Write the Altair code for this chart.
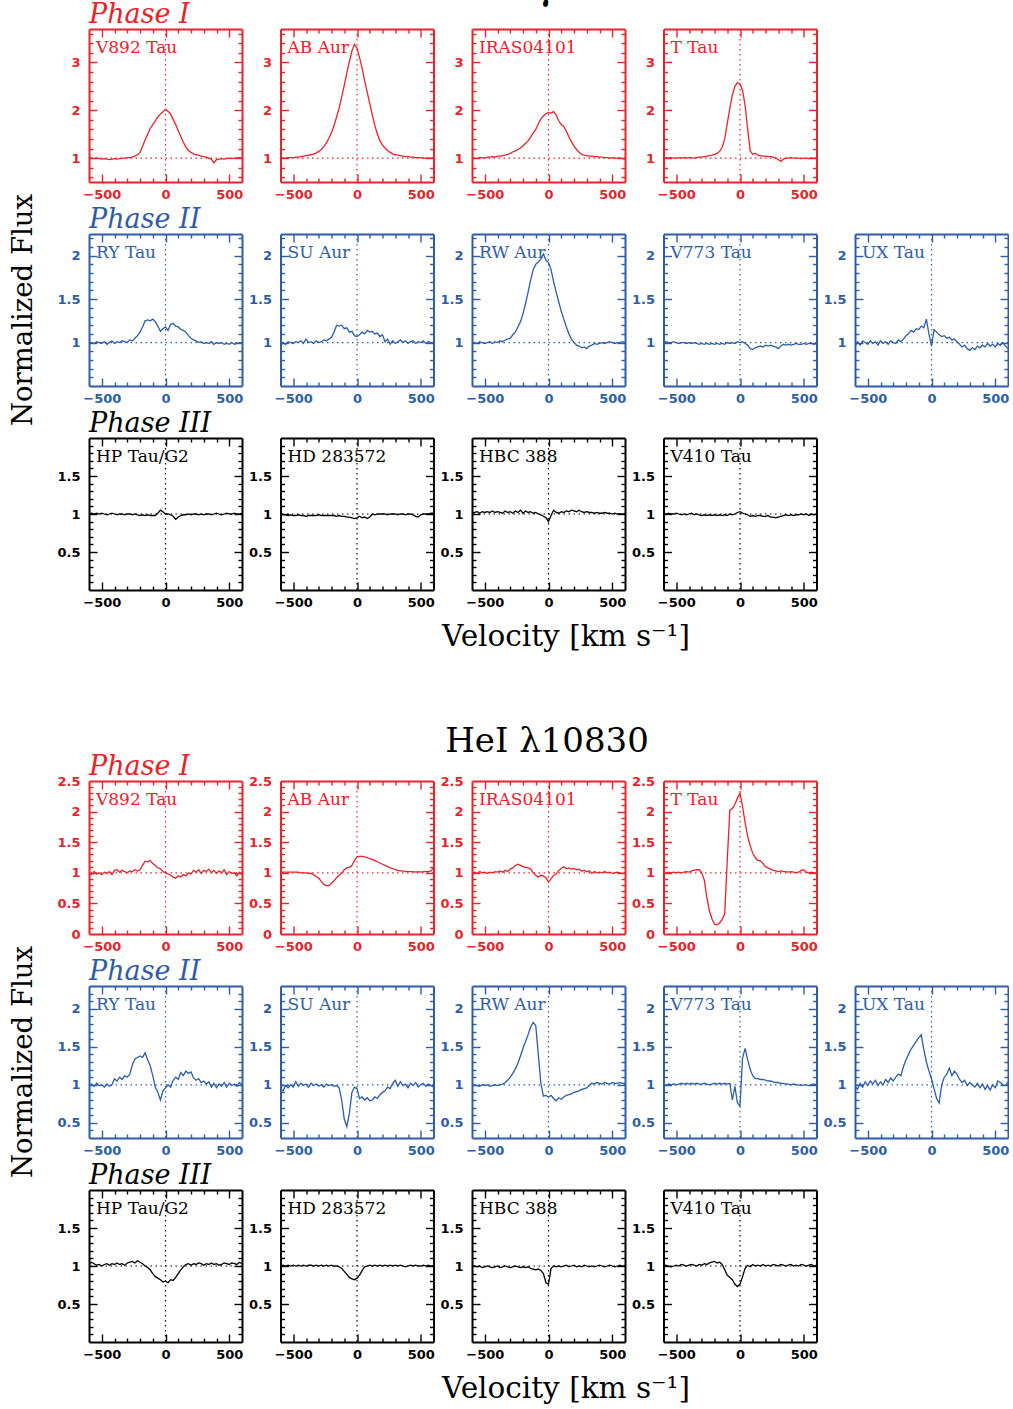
import altair as alt
import pandas as pd

# Normalized line profiles, resampled onto a common 20 km/s velocity grid
VELOCITY = list(range(-600, 601, 20))

# ---------------- Pa gamma ----------------
PAG_V892_TAU = [1.00, 1.00, 0.99, 1.00, 0.99, 0.98, 0.99, 0.98, 0.97, 0.98,
                0.99, 0.98, 0.99, 1.00, 1.00, 1.01, 1.01, 1.02, 1.04, 1.07,
                1.12, 1.25, 1.38, 1.50, 1.62, 1.70, 1.78, 1.86, 1.92, 1.97,
                2.02, 1.98, 1.92, 1.81, 1.70, 1.57, 1.45, 1.33, 1.23, 1.16,
                1.12, 1.09, 1.07, 1.06, 1.04, 1.03, 1.02, 1.00, 0.98, 0.90,
                0.97, 0.98, 0.99, 0.98, 0.99, 1.00, 0.99, 1.00, 1.00, 1.01,
                1.00]
PAG_AB_AUR = [1.00, 1.00, 1.00, 1.01, 1.01, 1.01, 1.02, 1.02, 1.03, 1.04,
              1.05, 1.06, 1.07, 1.09, 1.11, 1.14, 1.18, 1.24, 1.32, 1.42,
              1.53, 1.68, 1.86, 2.05, 2.28, 2.52, 2.78, 3.02, 3.24, 3.38,
              3.30, 3.10, 2.88, 2.62, 2.38, 2.14, 1.90, 1.68, 1.50, 1.36,
              1.27, 1.21, 1.16, 1.12, 1.09, 1.07, 1.06, 1.05, 1.04, 1.03,
              1.03, 1.02, 1.02, 1.01, 1.01, 1.01, 1.00, 1.00, 1.00, 1.00,
              1.00]
PAG_IRAS04101 = [1.00, 1.00, 0.99, 1.01, 1.01, 1.00, 1.02, 1.02, 1.03, 1.02,
                 1.04, 1.04, 1.05, 1.06, 1.08, 1.10, 1.13, 1.15, 1.18, 1.21,
                 1.26, 1.31, 1.36, 1.44, 1.53, 1.60, 1.72, 1.82, 1.88, 1.93,
                 1.95, 1.94, 1.97, 1.90, 1.78, 1.70, 1.66, 1.56, 1.44, 1.34,
                 1.25, 1.18, 1.12, 1.08, 1.06, 1.05, 1.04, 1.04, 1.03, 1.03,
                 1.02, 1.02, 1.01, 1.01, 1.00, 1.01, 1.00, 1.00, 1.00, 0.99,
                 0.98]
PAG_T_TAU = [1.00, 1.01, 1.00, 1.01, 1.00, 1.00, 1.01, 1.00, 1.01, 1.00,
             1.01, 1.01, 1.00, 1.01, 1.02, 1.02, 1.03, 1.04, 1.05, 1.06,
             1.08, 1.10, 1.14, 1.22, 1.40, 1.72, 2.04, 2.32, 2.50, 2.58,
             2.55, 2.42, 2.10, 1.60, 1.15, 1.08, 1.10, 1.06, 1.05, 1.04,
             1.04, 1.03, 1.03, 1.02, 1.00, 0.97, 0.93, 0.98, 1.00, 1.00,
             1.01, 1.00, 1.00, 1.00, 0.99, 1.00, 1.00, 0.99, 1.00, 1.00,
             1.00]
PAG_RY_TAU = [0.98, 1.00, 0.99, 1.01, 1.00, 0.99, 1.01, 0.98, 1.00, 1.02,
              0.99, 1.01, 1.00, 1.02, 1.01, 1.00, 1.03, 1.02, 1.05, 1.08,
              1.12, 1.18, 1.25, 1.26, 1.25, 1.27, 1.24, 1.19, 1.13, 1.16,
              1.18, 1.14, 1.21, 1.22, 1.19, 1.18, 1.15, 1.14, 1.12, 1.08,
              1.05, 1.03, 1.02, 1.00, 1.01, 0.99, 1.00, 0.99, 1.01, 0.98,
              1.00, 0.99, 1.00, 0.98, 0.99, 0.98, 1.00, 0.98, 0.99, 1.00,
              0.99]
PAG_SU_AUR = [0.96, 1.00, 0.98, 1.01, 1.00, 0.99, 1.01, 1.00, 1.02, 0.99,
              1.04, 1.00, 1.01, 0.99, 1.02, 1.00, 1.01, 1.03, 1.02, 1.04,
              1.06, 1.12, 1.20, 1.19, 1.20, 1.16, 1.17, 1.12, 1.13, 1.08,
              1.07, 1.09, 1.12, 1.10, 1.14, 1.12, 1.13, 1.10, 1.11, 1.07,
              1.09, 1.01, 1.04, 0.98, 1.02, 0.99, 1.01, 1.03, 1.00, 1.02,
              0.99, 1.01, 1.02, 0.99, 1.01, 1.00, 1.02, 0.99, 1.01, 1.00,
              0.99]
PAG_RW_AUR = [0.99, 1.00, 0.99, 1.01, 1.00, 0.99, 1.00, 1.01, 0.99, 1.01,
              1.00, 1.02, 1.01, 1.03, 1.04, 1.05, 1.09, 1.12, 1.18, 1.24,
              1.33, 1.45, 1.58, 1.72, 1.84, 1.90, 1.93, 1.96, 2.02, 1.95,
              1.92, 1.84, 1.70, 1.58, 1.47, 1.36, 1.27, 1.18, 1.10, 1.04,
              1.00, 0.97, 0.96, 0.94, 0.95, 0.93, 0.96, 0.97, 0.99, 0.98,
              0.99, 1.00, 0.99, 1.00, 1.01, 1.00, 0.99, 1.00, 1.00, 1.01,
              1.00]
PAG_V773_TAU = [1.00, 1.01, 1.00, 1.00, 1.01, 1.00, 0.99, 1.00, 1.00, 0.99,
                1.00, 0.99, 1.00, 0.99, 0.98, 0.99, 0.98, 0.99, 0.98, 0.99,
                0.98, 0.99, 0.98, 0.99, 0.98, 1.00, 0.99, 1.00, 0.99, 1.01,
                1.00, 1.01, 0.99, 0.97, 0.93, 0.92, 0.94, 0.95, 0.96, 0.95,
                0.97, 0.96, 0.97, 0.96, 0.95, 0.93, 0.96, 0.98, 0.97, 0.98,
                0.97, 0.98, 0.99, 0.98, 0.98, 0.99, 0.98, 0.99, 0.99, 0.98,
                0.99]
PAG_UX_TAU = [0.96, 1.01, 0.97, 1.02, 1.00, 0.98, 1.02, 0.99, 1.01, 0.97,
              1.02, 0.99, 1.01, 0.98, 1.02, 1.00, 0.99, 1.03, 1.01, 1.04,
              1.08, 1.10, 1.14, 1.12, 1.16, 1.15, 1.19, 1.17, 1.27, 1.10,
              0.96, 1.15, 1.12, 1.09, 1.07, 1.08, 1.05, 1.06, 1.03, 1.04,
              1.01, 0.98, 0.95, 0.97, 0.93, 0.91, 0.94, 0.92, 0.96, 0.94,
              0.97, 0.95, 0.99, 0.96, 0.98, 0.95, 0.99, 0.97, 1.00, 0.96,
              0.93]
PAG_HP_TAU_G2 = [1.00, 1.01, 1.00, 1.01, 1.00, 1.01, 1.00, 0.99, 1.00, 1.01,
                 1.00, 0.99, 1.00, 1.00, 0.99, 1.00, 1.00, 0.99, 1.00, 0.99,
                 0.98, 0.99, 0.98, 0.99, 0.98, 0.98, 0.98, 1.01, 1.05, 1.03,
                 1.00, 1.00, 0.99, 0.97, 0.93, 0.96, 0.98, 0.99, 0.99, 1.00,
                 0.99, 1.00, 1.00, 0.99, 1.00, 0.99, 1.00, 1.00, 0.99, 1.00,
                 1.01, 1.00, 0.99, 1.00, 1.01, 1.00, 1.00, 1.01, 1.00, 1.00,
                 1.01]
PAG_HD_283572 = [1.00, 0.99, 0.99, 0.98, 0.99, 0.98, 0.98, 0.99, 0.98, 0.98,
                 0.97, 0.98, 0.98, 0.98, 0.98, 0.99, 0.98, 0.98, 0.98, 0.98,
                 0.98, 0.98, 0.97, 0.98, 0.97, 0.97, 0.96, 0.96, 0.95, 0.94,
                 0.95, 0.97, 0.95, 0.96, 0.94, 0.96, 1.00, 0.99, 1.00, 1.00,
                 1.00, 1.00, 0.99, 1.00, 1.00, 1.00, 0.99, 1.00, 1.00, 0.99,
                 1.00, 1.00, 0.99, 0.97, 0.96, 0.99, 1.00, 1.00, 1.00, 1.01,
                 1.01]
PAG_HBC_388 = [1.01, 1.02, 1.03, 1.01, 1.03, 1.02, 1.03, 1.02, 1.04, 1.02,
               1.03, 1.02, 1.01, 1.04, 1.02, 1.03, 1.01, 1.04, 1.02, 1.05,
               1.01, 1.04, 1.02, 1.03, 1.01, 1.02, 1.00, 0.99, 0.97, 0.95,
               0.90, 0.98, 1.05, 1.02, 1.01, 1.03, 1.02, 1.04, 1.03, 1.05,
               1.04, 1.03, 1.05, 1.03, 1.02, 1.03, 1.02, 1.02, 1.01, 1.02,
               1.01, 1.01, 1.02, 1.01, 1.01, 1.00, 1.01, 1.00, 1.00, 1.00,
               1.00]
PAG_V410_TAU = [1.01, 1.00, 1.01, 1.00, 1.00, 1.01, 1.00, 0.99, 1.00, 0.99,
                1.00, 1.01, 0.99, 1.00, 0.99, 0.98, 0.99, 0.98, 0.99, 0.98,
                0.99, 0.98, 0.99, 0.98, 0.99, 0.98, 1.00, 0.99, 1.00, 1.02,
                1.03, 1.01, 1.00, 0.99, 0.97, 0.98, 0.97, 0.98, 0.98, 0.97,
                0.97, 0.98, 0.96, 0.96, 0.95, 0.96, 0.97, 0.98, 0.99, 0.98,
                0.99, 0.98, 0.99, 0.99, 1.00, 0.99, 1.00, 0.98, 1.00, 0.99,
                1.00]

# ---------------- He I 10830 ----------------
HEI_V892_TAU = [1.01, 0.97, 1.02, 0.98, 1.00, 0.97, 1.01, 0.99, 1.02, 0.97,
                1.04, 1.05, 1.01, 1.04, 1.02, 1.00, 1.03, 1.02, 1.05, 1.03,
                1.05, 1.12, 1.19, 1.18, 1.20, 1.15, 1.12, 1.08, 1.07, 1.02,
                1.00, 0.98, 0.96, 0.93, 0.91, 0.95, 0.93, 0.97, 0.95, 1.00,
                0.98, 1.04, 1.01, 1.05, 0.99, 1.04, 1.02, 1.06, 1.00, 1.04,
                0.99, 1.03, 1.00, 1.05, 0.97, 1.02, 0.99, 1.00, 0.95, 1.01,
                0.97]
HEI_AB_AUR = [1.01, 1.01, 1.01, 1.01, 1.01, 1.01, 1.01, 1.01, 1.00, 1.00,
              1.00, 0.99, 0.99, 0.97, 0.94, 0.91, 0.86, 0.81, 0.79, 0.79,
              0.83, 0.87, 0.92, 0.96, 1.00, 1.05, 1.08, 1.09, 1.12, 1.20,
              1.26, 1.27, 1.27, 1.26, 1.25, 1.23, 1.22, 1.20, 1.18, 1.16,
              1.14, 1.12, 1.10, 1.08, 1.07, 1.05, 1.04, 1.03, 1.03, 1.02,
              1.02, 1.02, 1.02, 1.01, 1.02, 1.01, 1.02, 1.02, 1.02, 1.03,
              1.08]
HEI_IRAS04101 = [1.00, 1.01, 0.99, 1.02, 1.00, 1.01, 0.99, 1.01, 1.00, 1.02,
                 1.01, 1.03, 1.01, 1.04, 1.02, 1.06, 1.08, 1.12, 1.14, 1.12,
                 1.10, 1.09, 1.08, 1.06, 1.00, 0.96, 0.93, 0.96, 0.95, 0.92,
                 0.85, 0.90, 0.96, 0.98, 1.04, 1.07, 1.10, 1.07, 1.08, 1.06,
                 1.07, 1.05, 1.06, 1.03, 1.04, 1.02, 1.03, 0.99, 1.02, 1.00,
                 1.01, 1.00, 1.02, 1.00, 1.01, 0.99, 1.00, 1.01, 1.00, 0.99,
                 0.99]
HEI_T_TAU = [1.00, 0.99, 1.01, 1.00, 1.01, 1.00, 1.01, 1.00, 1.01, 1.02,
             1.01, 1.03, 1.04, 1.05, 1.05, 1.00, 0.88, 0.60, 0.38, 0.25,
             0.16, 0.15, 0.18, 0.24, 0.33, 1.20, 2.02, 2.05, 2.12, 2.22,
             2.30, 2.08, 1.82, 1.60, 1.44, 1.32, 1.25, 1.20, 1.20, 1.15,
             1.10, 1.08, 1.06, 1.04, 1.03, 1.02, 1.03, 1.02, 1.02, 1.01,
             1.02, 1.01, 1.00, 1.01, 1.04, 1.05, 1.01, 1.00, 1.01, 1.00,
             1.00]
HEI_RY_TAU = [0.97, 1.01, 0.98, 1.02, 0.99, 1.00, 0.97, 1.01, 0.98, 1.00,
              1.08, 1.05, 1.10, 1.07, 1.12, 1.10, 1.14, 1.26, 1.34, 1.36,
              1.38, 1.36, 1.42, 1.33, 1.25, 1.12, 0.97, 0.90, 0.80, 0.92,
              0.96, 1.00, 0.97, 1.06, 1.10, 1.07, 1.16, 1.12, 1.18, 1.15,
              1.17, 1.09, 1.06, 1.08, 1.03, 1.05, 1.01, 1.04, 0.97, 1.02,
              0.96, 1.01, 0.98, 1.03, 0.97, 1.02, 0.99, 1.01, 0.98, 1.03,
              1.00]
HEI_SU_AUR = [0.94, 0.92, 0.99, 0.96, 1.00, 0.97, 1.04, 0.98, 1.02, 0.99,
              1.01, 0.97, 1.02, 0.99, 1.01, 0.98, 1.00, 0.97, 1.01, 0.99,
              1.00, 0.98, 0.99, 0.96, 0.80, 0.55, 0.45, 0.62, 0.90, 0.97,
              0.95, 0.82, 0.84, 0.80, 0.83, 0.79, 0.80, 0.84, 0.82, 0.87,
              0.90, 0.92, 0.97, 0.95, 1.02, 1.06, 0.98, 1.04, 0.99, 1.01,
              0.96, 1.02, 0.99, 1.03, 0.97, 1.00, 1.02, 0.98, 1.01, 0.99,
              0.97]
HEI_RW_AUR = [0.98, 1.00, 0.99, 0.98, 1.00, 0.99, 1.00, 0.98, 0.99, 1.00,
              0.99, 1.00, 1.01, 1.03, 1.06, 1.10, 1.15, 1.21, 1.28, 1.38,
              1.48, 1.57, 1.66, 1.76, 1.82, 1.78, 1.40, 1.02, 0.85, 0.86,
              0.84, 0.86, 0.82, 0.79, 0.83, 0.81, 0.84, 0.86, 0.87, 0.88,
              0.90, 0.91, 0.92, 0.94, 0.95, 0.96, 0.99, 1.02, 1.01, 1.03,
              1.02, 1.01, 1.03, 1.02, 1.01, 1.03, 1.02, 1.02, 1.03, 1.02,
              1.02]
HEI_V773_TAU = [1.00, 0.99, 1.01, 1.00, 1.01, 1.00, 1.01, 1.02, 1.01, 1.02,
                1.01, 1.02, 1.01, 1.02, 1.01, 1.01, 1.02, 1.01, 1.00, 1.01,
                1.02, 1.01, 1.02, 1.01, 1.02, 1.01, 1.02, 0.80, 0.98, 0.76,
                0.72, 1.35, 1.48, 1.33, 1.20, 1.12, 1.08, 1.08, 1.07, 1.07,
                1.06, 1.05, 1.05, 1.04, 1.03, 1.03, 1.02, 1.02, 1.01, 1.01,
                1.00, 1.01, 1.00, 1.00, 0.99, 1.00, 1.00, 0.99, 1.00, 1.01,
                1.00]
HEI_UX_TAU = [0.98, 0.94, 1.02, 0.97, 1.04, 0.99, 1.05, 1.01, 1.06, 0.99,
              1.04, 1.00, 1.07, 1.03, 1.09, 1.05, 1.10, 1.14, 1.12, 1.24,
              1.33, 1.40, 1.47, 1.52, 1.57, 1.62, 1.66, 1.46, 1.30, 1.18,
              1.08, 0.95, 0.82, 0.76, 1.00, 1.10, 1.14, 1.22, 1.12, 1.18,
              1.14, 1.07, 1.03, 1.06, 0.99, 1.03, 1.00, 0.97, 1.02, 0.96,
              1.01, 0.94, 0.99, 0.93, 1.00, 0.96, 1.05, 1.03, 1.00, 0.99,
              1.04]
HEI_HP_TAU_G2 = [1.02, 1.05, 1.03, 1.01, 1.02, 1.00, 1.02, 1.03, 1.01, 1.03,
                 1.02, 1.04, 1.02, 1.03, 1.01, 1.04, 1.05, 1.06, 1.04, 1.07,
                 1.05, 1.03, 1.00, 0.98, 0.95, 0.90, 0.86, 0.84, 0.82, 0.79,
                 0.80, 0.78, 0.82, 0.81, 0.85, 0.90, 0.95, 0.99, 1.02, 1.03,
                 1.01, 1.03, 1.02, 1.04, 1.03, 1.01, 1.03, 1.02, 1.04, 1.02,
                 1.03, 1.01, 1.02, 1.04, 1.03, 1.02, 1.04, 1.03, 1.02, 1.05,
                 1.03]
HEI_HD_283572 = [1.00, 1.01, 1.00, 1.01, 1.00, 1.01, 1.00, 1.01, 1.00, 1.01,
                 1.00, 1.01, 1.01, 1.00, 1.01, 1.00, 1.01, 1.00, 1.01, 1.00,
                 1.01, 1.00, 1.00, 0.99, 0.97, 0.93, 0.89, 0.85, 0.83, 0.82,
                 0.84, 0.88, 0.94, 0.99, 1.00, 1.01, 1.00, 1.01, 1.00, 1.01,
                 1.00, 1.01, 1.00, 1.01, 1.00, 1.01, 1.00, 1.01, 1.00, 0.99,
                 1.00, 1.01, 1.00, 1.01, 1.00, 1.00, 1.01, 1.00, 1.01, 1.00,
                 1.00]
HEI_HBC_388 = [0.99, 1.00, 0.99, 1.00, 0.98, 0.99, 1.00, 0.99, 0.98, 0.99,
               1.00, 0.98, 0.99, 1.00, 0.99, 0.98, 0.99, 1.00, 0.99, 0.98,
               0.99, 0.98, 0.99, 0.97, 0.96, 0.95, 0.96, 0.94, 0.90, 0.78,
               0.76, 0.97, 1.00, 0.99, 1.00, 0.99, 1.00, 1.01, 0.99, 1.00,
               1.01, 0.99, 1.00, 0.99, 1.01, 1.00, 0.99, 1.00, 0.99, 1.00,
               1.01, 1.00, 0.99, 1.00, 1.01, 1.00, 0.99, 1.00, 1.01, 1.00,
               1.00]
HEI_V410_TAU = [1.00, 1.01, 1.00, 0.99, 1.00, 1.01, 1.00, 1.02, 1.01, 1.00,
                1.01, 1.02, 1.01, 1.00, 1.02, 1.01, 1.03, 1.02, 1.04, 1.05,
                1.06, 1.04, 1.05, 1.02, 0.95, 0.88, 0.85, 0.82, 0.76, 0.73,
                0.76, 0.86, 0.97, 1.01, 0.99, 1.02, 1.00, 1.01, 1.00, 1.02,
                1.00, 1.01, 1.00, 1.02, 1.01, 1.00, 1.02, 1.01, 1.00, 1.01,
                1.02, 1.00, 1.01, 1.00, 1.02, 1.01, 1.00, 1.01, 1.02, 1.00,
                1.01]

# ---------------- axes ----------------
X_LABELS = [-500, 0, 500]
X_MAJOR = [-500, 0, 500]
X_MINOR = [-400, -300, -200, -100, 100, 200, 300, 400]

Y_PAG1 = {"domain": [0.5, 3.7], "labels": [1, 2, 3], "major": [1, 2, 3],
          "minor": [0.6, 0.8, 1.2, 1.4, 1.6, 1.8, 2.2, 2.4, 2.6, 2.8, 3.2, 3.4, 3.6]}
Y_PAG2 = {"domain": [0.5, 2.25], "labels": [1, 1.5, 2], "major": [1, 1.5, 2],
          "minor": [0.6, 0.7, 0.8, 0.9, 1.1, 1.2, 1.3, 1.4, 1.6, 1.7, 1.8, 1.9, 2.1, 2.2]}
Y_LOW = {"domain": [0, 2], "labels": [0.5, 1, 1.5], "major": [0.5, 1, 1.5],
         "minor": [0.1, 0.2, 0.3, 0.4, 0.6, 0.7, 0.8, 0.9, 1.1, 1.2, 1.3, 1.4,
                   1.6, 1.7, 1.8, 1.9]}
Y_HEI1 = {"domain": [0, 2.5], "labels": [0, 0.5, 1, 1.5, 2, 2.5], "major": [0.5, 1, 1.5, 2],
          "minor": [0.1, 0.2, 0.3, 0.4, 0.6, 0.7, 0.8, 0.9, 1.1, 1.2, 1.3, 1.4,
                    1.6, 1.7, 1.8, 1.9, 2.1, 2.2, 2.3, 2.4]}
Y_HEI2 = {"domain": [0.3, 2.3], "labels": [0.5, 1, 1.5, 2], "major": [0.5, 1, 1.5, 2],
          "minor": [0.4, 0.6, 0.7, 0.8, 0.9, 1.1, 1.2, 1.3, 1.4, 1.6, 1.7, 1.8,
                    1.9, 2.1, 2.2]}

RED = "#e8232a"
BLUE = "#2d5daa"
BLACK = "#000000"

PANEL_W = 153
SERIF = "DejaVu Serif"
SANS = "DejaVu Sans"
ONE = pd.DataFrame({"k": [0]})

GROUPS = [
    ("Paγ", 53, [
        ("Phase I", RED, Y_PAG1, 153, [
            ("V892 Tau", PAG_V892_TAU), ("AB Aur", PAG_AB_AUR),
            ("IRAS04101", PAG_IRAS04101), ("T Tau", PAG_T_TAU)]),
        ("Phase II", BLUE, Y_PAG2, 152, [
            ("RY Tau", PAG_RY_TAU), ("SU Aur", PAG_SU_AUR), ("RW Aur", PAG_RW_AUR),
            ("V773 Tau", PAG_V773_TAU), ("UX Tau", PAG_UX_TAU)]),
        ("Phase III", BLACK, Y_LOW, 152, [
            ("HP Tau/G2", PAG_HP_TAU_G2), ("HD 283572", PAG_HD_283572),
            ("HBC 388", PAG_HBC_388), ("V410 Tau", PAG_V410_TAU)]),
    ]),
    ("HeI λ10830", 75, [
        ("Phase I", RED, Y_HEI1, 153, [
            ("V892 Tau", HEI_V892_TAU), ("AB Aur", HEI_AB_AUR),
            ("IRAS04101", HEI_IRAS04101), ("T Tau", HEI_T_TAU)]),
        ("Phase II", BLUE, Y_HEI2, 152, [
            ("RY Tau", HEI_RY_TAU), ("SU Aur", HEI_SU_AUR), ("RW Aur", HEI_RW_AUR),
            ("V773 Tau", HEI_V773_TAU), ("UX Tau", HEI_UX_TAU)]),
        ("Phase III", BLACK, Y_LOW, 152, [
            ("HP Tau/G2", HEI_HP_TAU_G2), ("HD 283572", HEI_HD_283572),
            ("HBC 388", HEI_HBC_388), ("V410 Tau", HEI_V410_TAU)]),
    ]),
]


def label_axis(orient, values, color, pad):
    return alt.Axis(orient=orient, values=values, format=".4~g", ticks=False, tickSize=0,
                    domain=False, grid=False, title=None, labelColor=color,
                    labelFont=SANS, labelFontSize=13, labelFontWeight="bold",
                    labelPadding=pad, labelFlush=False, labelOverlap=False)


def tick_axis(orient, offset, values, color, size, frame):
    # inward-pointing ticks: the axis is flipped to the opposite edge of the frame
    return alt.Axis(orient=orient, offset=offset, values=values, labels=False, ticks=True,
                    tickSize=size, tickWidth=1.4, tickColor=color, domain=frame,
                    domainColor=color, domainWidth=2, grid=False, title=None)


def text_layer(text, x, y, size, color, italic=False, angle=0, align="left"):
    kw = dict(text=text, font=SERIF, fontSize=size, color=color, align=align,
              baseline="alphabetic")
    if italic:
        kw["fontStyle"] = "italic"
    if angle:
        kw["angle"] = angle
    return alt.Chart(ONE).mark_text(**kw).encode(x=alt.value(x), y=alt.value(y))


def panel(name, flux, color, yconf, height, extras):
    assert len(flux) == len(VELOCITY), name
    spec = pd.DataFrame({"v": VELOCITY, "f": flux})
    xs = alt.Scale(domain=[-600, 600], nice=False, zero=False)
    ys = alt.Scale(domain=yconf["domain"], nice=False, zero=False)

    layers = [
        alt.Chart(spec).mark_line(color=color, strokeWidth=1.3, clip=True).encode(
            x=alt.X("v:Q", scale=xs, axis=label_axis("bottom", X_LABELS, color, 6)),
            y=alt.Y("f:Q", scale=ys, axis=label_axis("left", yconf["labels"], color, 9)),
        )
    ]
    for x_orient, y_orient in (("top", "right"), ("bottom", "left")):
        for xv, yv, size, frame in ((X_MAJOR, yconf["major"], 8, True),
                                    (X_MINOR, yconf["minor"], 4, False)):
            layers.append(
                alt.Chart(spec).mark_line(opacity=0).encode(
                    x=alt.X("v:Q", scale=xs,
                            axis=tick_axis(x_orient, -height, xv, color, size, frame)),
                    y=alt.Y("f:Q", scale=ys,
                            axis=tick_axis(y_orient, -PANEL_W, yv, color, size, frame)),
                )
            )
    dotted = dict(color=color, strokeDash=[1.5, 3.5], strokeWidth=1.2)
    layers.append(alt.Chart(pd.DataFrame({"v": [0]})).mark_rule(**dotted).encode(
        x=alt.X("v:Q", scale=xs, axis=None)))
    layers.append(alt.Chart(pd.DataFrame({"f": [1]})).mark_rule(**dotted).encode(
        y=alt.Y("f:Q", scale=ys, axis=None)))
    layers.append(text_layer(name, 7, 24, 17, color))
    layers.extend(extras)
    return (alt.layer(*layers)
            .resolve_axis(x="independent", y="independent")
            .properties(width=PANEL_W, height=height))


def blank(height):
    return (alt.Chart(ONE).mark_point(opacity=0, size=1)
            .encode(x=alt.value(0), y=alt.value(0))
            .properties(width=PANEL_W, height=height))


cells = []
for gi, (line_title, title_x, rows) in enumerate(GROUPS):
    if gi > 0:
        cells.extend(blank(87) for _ in range(5))
    for ri, (phase, color, yconf, height, stars) in enumerate(rows):
        for ci in range(5):
            if ci >= len(stars):
                cells.append(blank(height))
                continue
            extras = []
            if ci == 0:
                extras.append(text_layer(phase, 0, -6, 27, color, italic=True))
            if ri == 0 and ci == 2:
                extras.append(text_layer(line_title, title_x, -29, 34, BLACK, align="center"))
            if ri == 1 and ci == 0:
                extras.append(text_layer("Normalized Flux", -57, height / 2, 27.5, BLACK,
                                         angle=270, align="center"))
            if ri == 2 and ci == 2:
                extras.append(text_layer("Velocity [km s⁻¹]", 94, 208, 29.5, BLACK,
                                         align="center"))
            name, flux = stars[ci]
            cells.append(panel(name, flux, color, yconf, height, extras))

chart = (
    alt.concat(*cells, columns=5, spacing={"row": 52, "column": 38.5},
               bounds="flush", align="each")
    .properties(padding={"left": 9, "top": -27, "right": 0, "bottom": 0})
    .configure_view(strokeWidth=0)
)

chart.save("out.html", embed_options={"renderer": "svg", "actions": False})
